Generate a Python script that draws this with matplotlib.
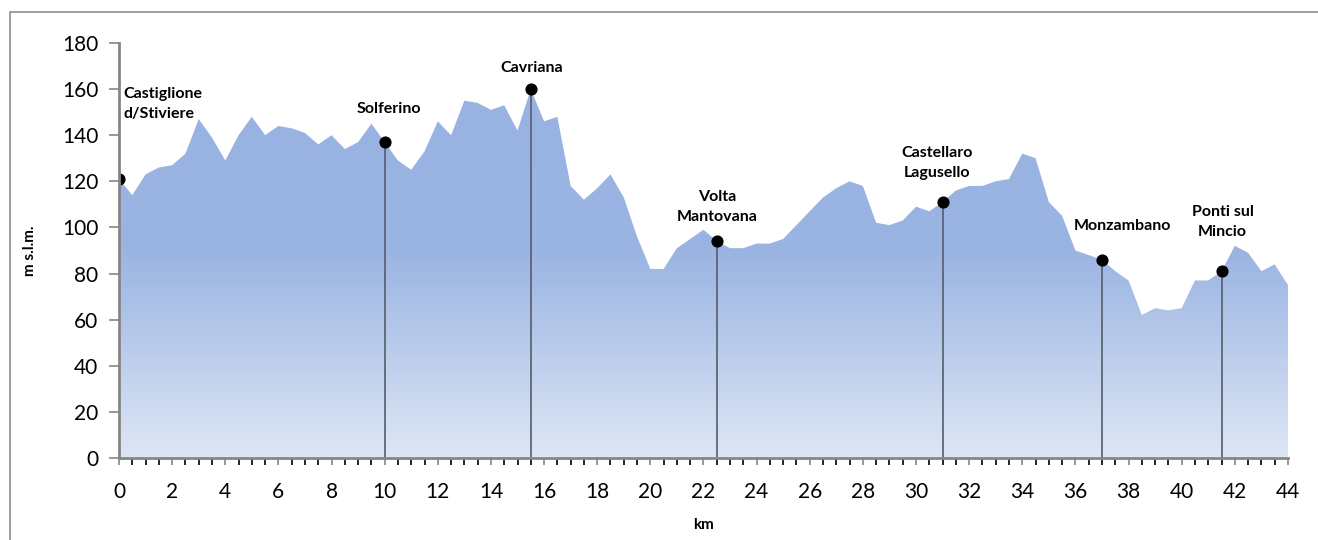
import numpy as np
import matplotlib.pyplot as plt
from matplotlib.colors import LinearSegmentedColormap
from matplotlib.patches import Rectangle

plt.rcParams['font.family'] = ['Lato', 'DejaVu Sans']

# Profilo altimetrico (quota ogni 0,5 km)
km = np.arange(0, 44.5, 0.5)
quota = [121, 114, 123, 126, 127, 132, 147, 139, 129, 140,
         148, 140, 144, 143, 141, 136, 140, 134, 137, 145,
         137, 129, 125, 133, 146, 140, 155, 154, 151, 153,
         142, 160, 146, 148, 118, 112, 117, 123, 113, 96,
         82, 82, 91, 95, 99, 94, 91, 91, 93, 93,
         95, 101, 107, 113, 117, 120, 118, 102, 101, 103,
         109, 107, 111, 116, 118, 118, 120, 121, 132, 130,
         111, 105, 90, 88, 86, 81, 77, 62, 65, 64,
         65, 77, 77, 81, 92, 89, 81, 84, 75]

# Località lungo il percorso
localita = ["Castiglione\nd/Stiviere", "Solferino", "Cavriana", "Volta\nMantovana",
            "Castellaro\nLagusello", "Monzambano", "Ponti sul\nMincio"]
km_localita = [0, 10, 15.5, 22.5, 31, 37, 41.5]
quota_localita = [121, 137, 160, 94, 111, 86, 81]

# spostamento delle etichette (pixel) e allineamento
offset_etichette = [(4, 58), (4, 26), (1, 14), (0, 17), (-6, 22), (20, 27), (1, 32)]
allineamento = ["left", "center", "center", "center", "center", "center", "center"]

fig = plt.figure(figsize=(13.18, 5.4), dpi=100)
ax = fig.add_axes([0.0903, 0.1519, 0.8869, 0.7685])

# riempimento con sfumatura
poly = ax.fill_between(km, quota, 0, color='none', lw=0)
cmap = LinearSegmentedColormap.from_list(
    "profilo", [(0, "#dee6f5"), (0.56, "#9ab4e2"), (1, "#98b3e2")])
grad = np.linspace(0, 1, 256).reshape(-1, 1)
img = ax.imshow(grad, cmap=cmap, origin='lower', aspect='auto',
                extent=[0, 44, 0, 160], zorder=1)
img.set_clip_path(poly.get_paths()[0], transform=ax.transData)

# linee verticali e punti delle località
ax.vlines(km_localita, 0, quota_localita, colors='#555d6a', lw=1.2, zorder=3)
ax.scatter(km_localita, quota_localita, s=60, color='black', zorder=4)

for nome, x, y, off, ha in zip(localita, km_localita, quota_localita,
                               offset_etichette, allineamento):
    ax.annotate(nome, (x, y), xytext=off, textcoords='offset pixels',
                ha=ha, va='bottom', fontsize=11.5, fontweight='bold',
                multialignment=ha, linespacing=1.55)

ax.set_xlim(0, 44)
ax.set_ylim(0, 180)
ax.set_xticks(np.arange(0, 45, 2))
ax.set_xticks(np.arange(0, 44.5, 0.5), minor=True)
ax.set_yticks(np.arange(0, 181, 20))
ax.tick_params(axis='both', labelsize=15, colors='#868686', labelcolor='black')
ax.tick_params(axis='x', which='both', direction='out', length=5, width=1.2, pad=12)
ax.tick_params(axis='y', direction='out', length=7, width=1.2, pad=8)

for s in ['top', 'right']:
    ax.spines[s].set_visible(False)
for s in ['left', 'bottom']:
    ax.spines[s].set_color('#868686')
    ax.spines[s].set_linewidth(2)
    ax.spines[s].set_zorder(5)

ax.set_xlabel("km", fontsize=11, fontweight='bold', labelpad=12)
ax.set_ylabel("m s.l.m.", fontsize=11, fontweight='bold', labelpad=18)

# cornice del grafico
fig.patches.append(Rectangle((10 / 1318, -0.1), 1.2, 1 - 12 / 540 + 0.1,
                             transform=fig.transFigure, fill=False,
                             edgecolor='#8c8c8c', lw=1.2))

fig.savefig("out.png", dpi=100)
